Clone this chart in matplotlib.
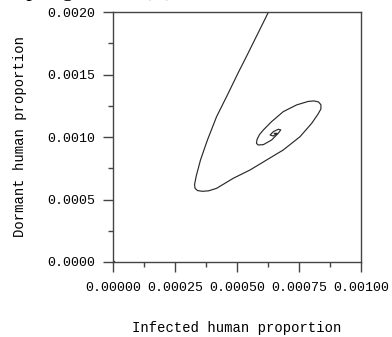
import numpy as np
import matplotlib
matplotlib.use("Agg")
import matplotlib.pyplot as plt

# trajectory (infected, dormant proportions)
infected = [0.000650, 0.000626, 0.000577, 0.000537, 0.000503, 0.000464, 0.000417,
            0.000380, 0.000352, 0.000335, 0.000328, 0.000330, 0.000340, 0.000360,
            0.000385, 0.000417, 0.000484, 0.000552, 0.000619, 0.000686, 0.000754,
            0.000801, 0.000825, 0.000838, 0.000838, 0.000828, 0.000810, 0.000787,
            0.000740, 0.000686, 0.000639, 0.000606, 0.000590, 0.000580, 0.000578,
            0.000585, 0.000606, 0.000639, 0.000666, 0.000676, 0.000666, 0.000646,
            0.000633, 0.000646, 0.000660, 0.000650]
dormant = [0.002050, 0.002000, 0.001804, 0.001644, 0.001511, 0.001351, 0.001164,
           0.000977, 0.000817, 0.000690, 0.000620, 0.000590, 0.000572, 0.000566,
           0.000570, 0.000590, 0.000670, 0.000737, 0.000817, 0.000897, 0.001004,
           0.001111, 0.001180, 0.001225, 0.001260, 0.001282, 0.001290, 0.001286,
           0.001258, 0.001204, 0.001124, 0.001058, 0.001020, 0.000980, 0.000950,
           0.000937, 0.000940, 0.000977, 0.001031, 0.001058, 0.001063, 0.001044,
           0.001017, 0.001009, 0.001031, 0.001030]

x_ticks = [0.0, 0.00025, 0.0005, 0.00075, 0.001]
x_labels = ["0.00000", "0.00025", "0.00050", "0.00075", "0.00100"]
y_ticks = [0.0, 0.0005, 0.001, 0.0015, 0.002]
y_labels = ["0.0000", "0.0005", "0.0010", "0.0015", "0.0020"]

mono = "Liberation Mono"

fig = plt.figure(figsize=(3.92, 3.37), dpi=100)
ax = fig.add_axes([0.289, 0.2226, 0.632, 0.741])

ax.plot(infected, dormant, color="#2a2a2a", lw=0.85)
ax.plot([0], [0], marker="s", ms=2, color="#222222")

ax.set_xlim(0, 0.001)
ax.set_ylim(0, 0.002)
ax.set_xticks(x_ticks)
ax.set_xticklabels(x_labels, fontfamily=mono, fontsize=9.6)
ax.set_yticks(y_ticks)
ax.set_yticklabels(y_labels, fontfamily=mono, fontsize=9.6)
ax.set_xticks([0.000125, 0.000375, 0.000625, 0.000875], minor=True)
ax.set_yticks([0.00025, 0.00075, 0.00125, 0.00175], minor=True)
ax.tick_params(which="major", direction="out", length=7.2, width=1, color="#444444", pad=5.8)
ax.tick_params(axis="x", which="major", pad=7.5)
ax.tick_params(which="minor", direction="out", length=3.6, width=1, color="#444444")
for s in ax.spines.values():
    s.set_color("#444444")
    s.set_linewidth(1)

fig.text(0.605, 0.027, "Infected human proportion", fontfamily=mono, fontsize=10,
         ha="center", va="center")
fig.text(0.051, 0.594, "Dormant human proportion", fontfamily=mono, fontsize=10,
         ha="center", va="center", rotation=90)

# clipped caption at top edge
fig.text(0.035, 1.012, "Spring season (B)", fontfamily="Liberation Serif",
         fontsize=16, ha="left", va="baseline")

fig.savefig("out.png", dpi=100)
